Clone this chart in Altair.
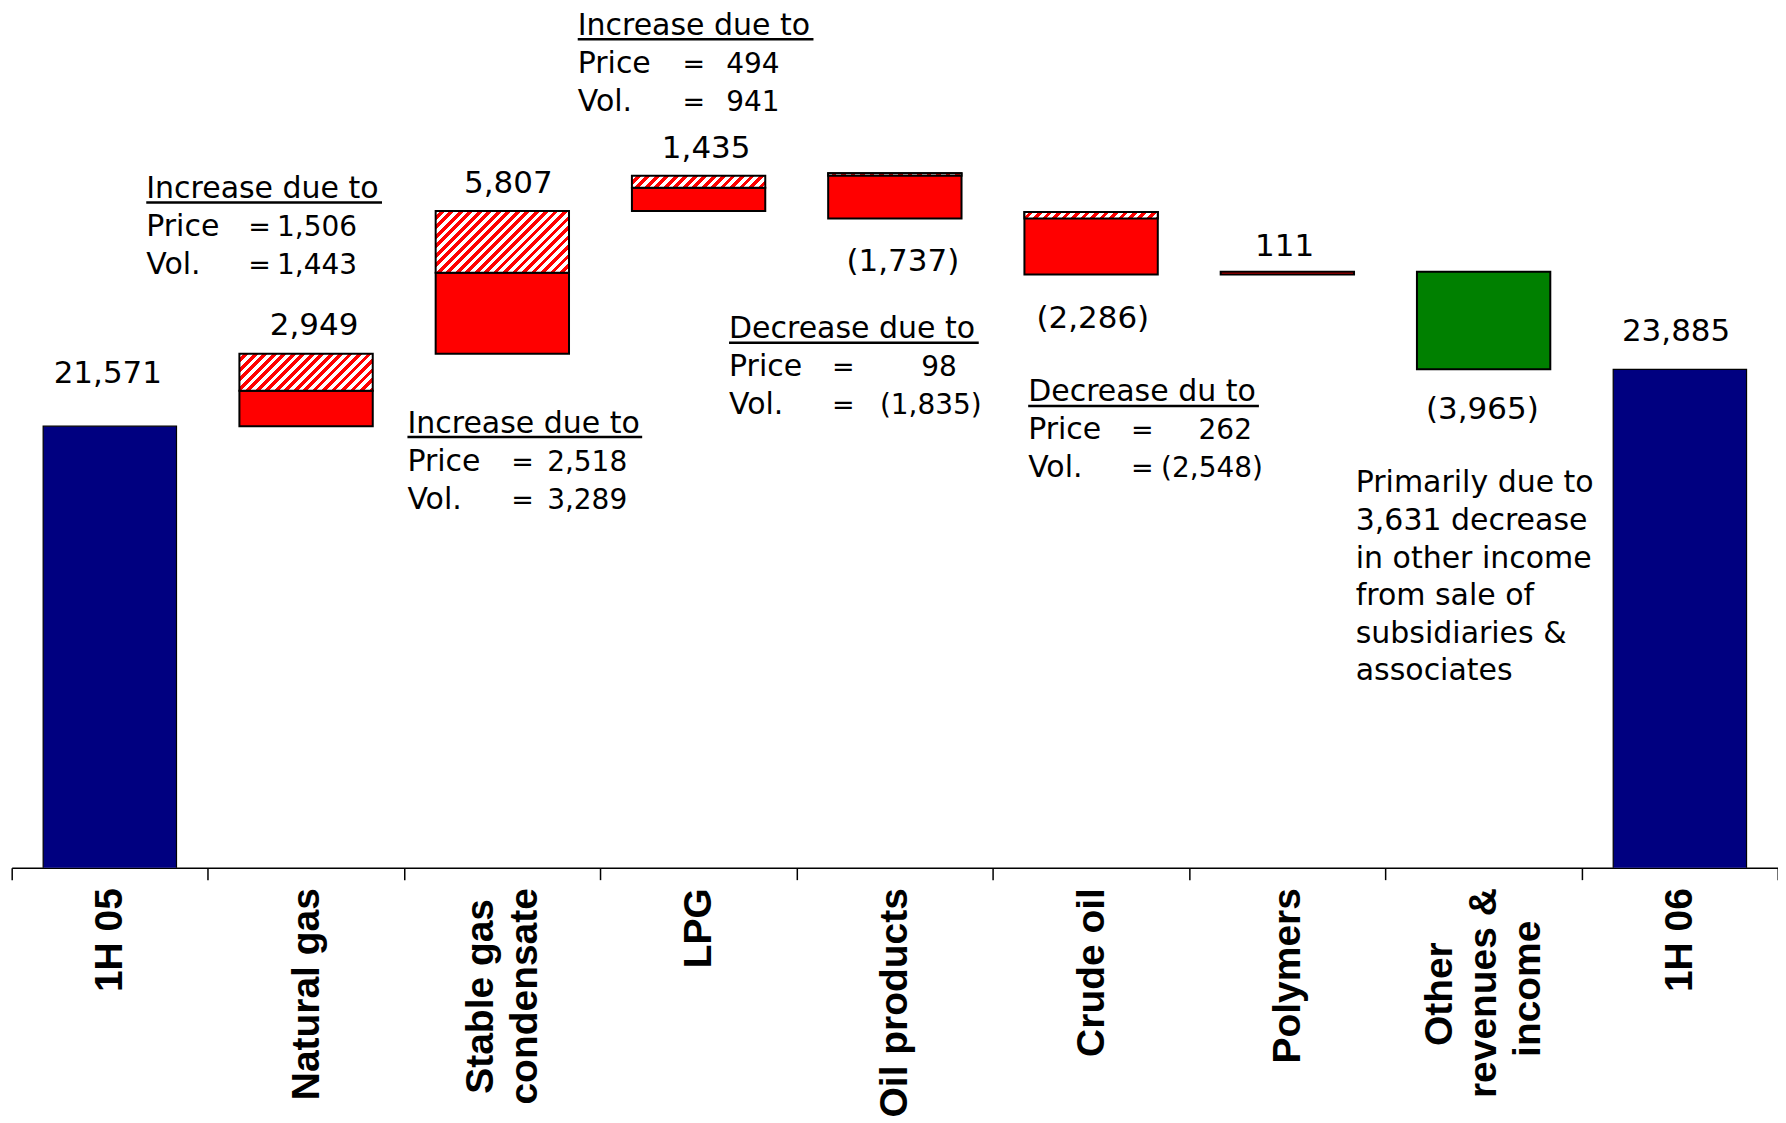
import json
import altair as alt
import pandas as pd

# ---------------- data ----------------
categories = ["1H 05", "Natural gas", "Stable gas condensate", "LPG", "Oil products",
              "Crude oil", "Polymers", "Other revenues & income", "1H 06"]
axis_lines = {"Stable gas condensate": ["Stable gas", "condensate"],
              "Other revenues & income": ["Other", "revenues &", "income"]}
opening_total = 21571   # 1H 05
closing_total = 23885   # 1H 06
change_cats = ["Natural gas", "Stable gas condensate", "LPG", "Oil products",
               "Crude oil", "Polymers", "Other revenues & income"]
net_change = [2949, 5807, 1435, -1737, -2286, 111, -3965]
price_effect = [1506, 2518, 494, 98, 262, None, None]
volume_effect = [1443, 3289, 941, -1835, -2548, None, None]
note_titles = ["Increase due to", "Increase due to", "Increase due to",
               "Decrease due to", "Decrease du to"]
other_note = ["Primarily due to", "3,631 decrease", "in other income",
              "from sale of", "subsidiaries &", "associates"]

# ---------------- layout / style ----------------
W, H = 1768.3, 858.0
Y_MIN, Y_MAX = 3612, 38477
STEP = W / len(categories)
K = H / (Y_MAX - Y_MIN)
BAR_W = 133.5
NAVY, RED, GREEN = "#000080", "#FF0000", "#008000"
TXT_FONT = "DejaVu Sans"
AX_FONT = "Liberation Sans"
AX_SIZE = 39
AX_LINE = 44
NBSP_EM = 0.278   # width of a no-break space in Liberation Sans Bold
# widths (em) of the axis label lines, used only to centre the lines of a label
LINE_EM = {"Stable gas": 5.002, "condensate": 5.557,
           "Other": 2.667, "revenues &": 5.391, "income": 3.501}


def fmt(v):
    return f"{v:,}" if v >= 0 else f"({-v:,})"


def centred(lines):
    longest = max(LINE_EM[l] for l in lines)
    out = []
    for l in lines:
        n = int(round((longest - LINE_EM[l]) / 2 / NBSP_EM))
        # trailing no-break spaces (kept alive by a zero-width space) centre the line
        out.append(l + "\u00a0" * n + "\u200b" if n else l)
    return out


# ---------------- build waterfall segments ----------------
segs, hatched = [], []
tops, bottoms = {}, {}
segs.append(dict(cat="1H 05", y0=0, y1=opening_total, kind="total"))
tops["1H 05"], bottoms["1H 05"] = opening_total, 0
level = opening_total
for cat, net, p, v in zip(change_cats, net_change, price_effect, volume_effect):
    if p is None:
        lo, hi = sorted([level, level + net])
        segs.append(dict(cat=cat, y0=lo, y1=hi, kind="up" if net > 0 else "down"))
        tops[cat], bottoms[cat] = hi, lo
    elif net > 0:
        segs.append(dict(cat=cat, y0=level, y1=level + v, kind="volume"))
        hatched.append(dict(cat=cat, y0=level + v, y1=level + v + p))
        tops[cat], bottoms[cat] = level + net, level
    else:
        hatched.append(dict(cat=cat, y0=level, y1=level + p))
        segs.append(dict(cat=cat, y0=level + p + v, y1=level + p, kind="volume"))
        tops[cat], bottoms[cat] = level + p, level + net
    level += net
segs.append(dict(cat="1H 06", y0=0, y1=closing_total, kind="total"))
tops["1H 06"], bottoms["1H 06"] = closing_total, 0

seg_df = pd.DataFrame(segs)

label_expr = "datum.label"
offset_conditions = []
for k, lines in axis_lines.items():
    arr = json.dumps(centred(lines), ensure_ascii=False)
    label_expr = f"datum.label == {json.dumps(k)} ? {arr} : ({label_expr})"
    offset_conditions.append({"test": f"datum.value == {json.dumps(k)}",
                              "value": -AX_LINE * (len(lines) - 1) / 2})

X_BAND = alt.X(
    "cat:N",
    sort=categories,
    scale=alt.Scale(domain=categories, paddingInner=0, paddingOuter=0),
    axis=alt.Axis(
        title=None, labelAngle=-90, labelFont=AX_FONT, labelFontWeight="bold",
        labelFontSize=AX_SIZE, labelColor="black", labelLineHeight=AX_LINE, labelPadding=8,
        labelLimit=0, labelOverlap=False, labelExpr=label_expr,
        labelOffset={"condition": offset_conditions, "value": 0},
        tickSize=12, tickColor="black", tickWidth=1.5, tickBand="extent",
        domainColor="black", domainWidth=1.5, grid=False,
    ),
)
Y_SCALE = alt.Scale(domain=[Y_MIN, Y_MAX], zero=False, nice=False)
Y_BAR = alt.Y("y1:Q", scale=Y_SCALE, axis=None)


def hatch(h, w=BAR_W, period=9.5, red_share=0.5):
    span = w + h
    c = w * span / (w * w + h * h)
    stops = []
    pos = 0.0
    while pos < span:
        a = round(pos / span, 5)
        b = round(min((pos + period * (1 - red_share)) / span, 1), 5)
        e = round(min((pos + period) / span, 1), 5)
        stops += [alt.GradientStop(color="#ffffff", offset=a),
                  alt.GradientStop(color="#ffffff", offset=b),
                  alt.GradientStop(color=RED, offset=b),
                  alt.GradientStop(color=RED, offset=e)]
        pos += period
    return alt.LinearGradient(gradient="linear", stops=stops,
                              x1=0, y1=0, x2=c, y2=c * h / w)


totals = alt.Chart(seg_df[seg_df.kind == "total"]).mark_bar(
    width=BAR_W, fill=NAVY, stroke="black", strokeWidth=1.2, clip=True
).encode(x=X_BAND, y=Y_BAR, y2="y0:Q")

changes = alt.Chart(seg_df[seg_df.kind != "total"]).mark_bar(
    width=BAR_W, stroke="black", strokeWidth=2
).encode(
    x=X_BAND, y=Y_BAR, y2="y0:Q",
    fill=alt.Fill("kind:N", scale=alt.Scale(domain=["volume", "up", "down"],
                                            range=[RED, RED, GREEN]), legend=None),
)

hatch_layers = []
for row in hatched:
    h = (row["y1"] - row["y0"]) * K
    hatch_layers.append(
        alt.Chart(pd.DataFrame([row])).mark_bar(
            width=BAR_W, fill=hatch(h), stroke="black", strokeWidth=2
        ).encode(x=X_BAND, y=Y_BAR, y2="y0:Q")
    )

bars = alt.layer(totals, changes, *hatch_layers)

# ---------------- annotations ----------------
def at(cat, anchor, dx, dy):
    return categories.index(cat) + dx / STEP, anchor - dy / K


all_values = [opening_total] + net_change + [closing_total]
label_offsets = [(-2, -43), (8, -18.5), (6, -18), (7.6, -17.3), (8, 53),
                 (1.7, 53.7), (-2.8, -15.8), (-1.3, 49.6), (-3.8, -28.8)]
vrows = []
for cat, val, (dx, dy) in zip(categories, all_values, label_offsets):
    anchor = tops[cat] if val >= 0 else bottoms[cat]
    x, y = at(cat, anchor, dx, dy)
    vrows.append(dict(x=x, y=y, text=fmt(val)))

# per block: anchor side, left dx, title dy, "=" dx, number right dx (price, volume), underline length
note_layout = [
    ("top", -160, -156, -58, (51, 51), 236),
    ("bottom", -95, 79, 9, (125, 125), 235),
    ("top", -121, -141, -16, (81, 81), 236),
    ("bottom", -166, 120, -63, (62, 87), 250),
    ("bottom", -63, 127, 40, (161, 172), 231),
]
LINE = 38
left_rows, eq_rows, num_rows, rule_rows = [], [], [], []
for i, (side, ldx, tdy, eqdx, (rp, rv), ulen) in enumerate(note_layout):
    cat = change_cats[i]
    anchor = tops[cat] if side == "top" else bottoms[cat]
    x, y = at(cat, anchor, ldx, tdy)
    left_rows.append(dict(x=x, y=y, text=note_titles[i]))
    x1, yu = at(cat, anchor, ldx, tdy + 4.5)
    x2, _ = at(cat, anchor, ldx + ulen, tdy + 4.5)
    rule_rows.append(dict(x=x1, x2=x2, y=yu))
    for j, (name, val, rdx) in enumerate([("Price", price_effect[i], rp),
                                           ("Vol.", volume_effect[i], rv)]):
        dy = tdy + LINE * (j + 1)
        x, y = at(cat, anchor, ldx, dy)
        left_rows.append(dict(x=x, y=y, text=name))
        x, y = at(cat, anchor, eqdx, dy)
        eq_rows.append(dict(x=x, y=y, text="="))
        x, y = at(cat, anchor, rdx, dy)
        num_rows.append(dict(x=x, y=y, text=fmt(val)))

other_cat = "Other revenues & income"
for j, line in enumerate(other_note):
    x, y = at(other_cat, bottoms[other_cat], -128, 123 + 37.7 * j)
    left_rows.append(dict(x=x, y=y, text=line))

X_LIN = alt.Scale(domain=[-0.5, len(categories) - 0.5], nice=False, zero=False)
X_TXT = alt.X("x:Q", scale=X_LIN, axis=None)
Y_TXT = alt.Y("y:Q", scale=Y_SCALE, axis=None)


def text_layer(rows, align, size):
    return alt.Chart(pd.DataFrame(rows)).mark_text(
        align=align, baseline="alphabetic", font=TXT_FONT, fontSize=size, color="black"
    ).encode(x=X_TXT, y=Y_TXT, text="text:N")


value_labels = text_layer(vrows, "center", 31)
notes_left = text_layer(left_rows, "left", 30)
notes_eq = text_layer(eq_rows, "left", 27)
notes_num = text_layer(num_rows, "right", 28)

underlines = alt.Chart(pd.DataFrame(rule_rows)).mark_rule(
    color="black", strokeWidth=2.5
).encode(x=X_TXT, x2="x2:Q", y=Y_TXT)

annots = alt.layer(value_labels, notes_left, notes_eq, notes_num, underlines)

chart = alt.layer(bars, annots).resolve_scale(x="independent").properties(
    width=W, height=H,
    padding={"left": 3.7, "top": 2, "right": 0, "bottom": 265},
    autosize=alt.AutoSizeParams(type="none"),
).configure_view(stroke=None)

chart.save("out.html", embed_options={"renderer": "svg", "actions": False})
